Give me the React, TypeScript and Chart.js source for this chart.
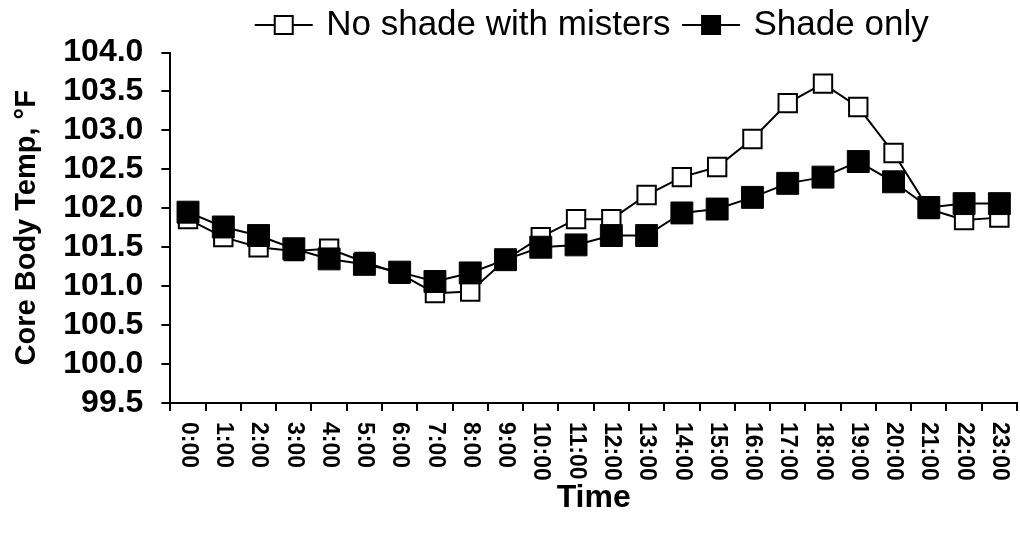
import { useEffect, useRef } from 'react';
import { Chart, registerables } from 'chart.js';

Chart.register(...registerables);

const timeLabels = [
  '0:00', '1:00', '2:00', '3:00', '4:00', '5:00', '6:00', '7:00', '8:00', '9:00', '10:00', '11:00',
  '12:00', '13:00', '14:00', '15:00', '16:00', '17:00', '18:00', '19:00', '20:00', '21:00', '22:00', '23:00',
];

const noShadeWithMisters = [
  101.86, 101.63, 101.5, 101.45, 101.48, 101.31, 101.16, 100.91, 100.93, 101.34, 101.63, 101.86,
  101.86, 102.17, 102.4, 102.53, 102.89, 103.35, 103.6, 103.3, 102.71, 101.99, 101.85, 101.88,
];

const shadeOnly = [
  101.95, 101.76, 101.65, 101.48, 101.35, 101.28, 101.18, 101.06, 101.17, 101.34, 101.5, 101.53,
  101.65, 101.65, 101.94, 101.99, 102.14, 102.32, 102.4, 102.6, 102.34, 102.01, 102.06, 102.06,
];

const seriesNames = ['No shade with misters', 'Shade only'];

const yMin = 99.5;
const yMax = 104.0;
const yStep = 0.5;

const xTitle = 'Time';
const yTitle = 'Core Body Temp, °F';

const FONT = 'Arial, "Liberation Sans", sans-serif';
const X_TICK_LEN = 8;
const X_TICK_PAD = 11;
const X_FONT_SIZE = 23;
const X_AXIS_HEIGHT = 130;

function makeLegendIcon(filled: boolean): HTMLCanvasElement {
  const c = document.createElement('canvas');
  const w = 60;
  const h = 26;
  c.width = w;
  c.height = h;
  const ctx = c.getContext('2d')!;
  ctx.strokeStyle = '#000';
  ctx.lineWidth = 2;
  ctx.beginPath();
  ctx.moveTo(1, h / 2);
  ctx.lineTo(w - 1, h / 2);
  ctx.stroke();
  if (filled) {
    const s = 20;
    ctx.fillStyle = '#000';
    ctx.fillRect(w / 2 - s / 2, h / 2 - s / 2, s, s);
  } else {
    const s = 18;
    ctx.fillStyle = '#fff';
    ctx.fillRect(w / 2 - s / 2, h / 2 - s / 2, s, s);
    ctx.strokeRect(w / 2 - s / 2, h / 2 - s / 2, s, s);
  }
  return c;
}

const rotatedXLabels = {
  id: 'rotatedXLabels',
  afterDraw(chart: any) {
    const scale = chart.scales.x;
    const ctx = chart.ctx;
    ctx.save();
    ctx.font = `bold ${X_FONT_SIZE}px ${FONT}`;
    ctx.fillStyle = '#000';
    ctx.textAlign = 'left';
    ctx.textBaseline = 'middle';
    const y0 = scale.top + X_TICK_LEN + X_TICK_PAD;
    const labels = chart.data.labels as string[];
    labels.forEach((lab, i) => {
      const x = scale.getPixelForTick(i);
      ctx.save();
      ctx.translate(x, y0);
      ctx.rotate(Math.PI / 2);
      ctx.fillText(String(lab), 0, 0);
      ctx.restore();
    });
    ctx.restore();
  },
};

export default function App() {
  const ref = useRef<HTMLCanvasElement | null>(null);

  useEffect(() => {
    if (!ref.current) return;
    const icons = [makeLegendIcon(false), makeLegendIcon(true)];
    const chart = new Chart(ref.current, {
      type: 'line',
      data: {
        labels: timeLabels,
        datasets: [
          {
            label: seriesNames[0],
            data: noShadeWithMisters,
            borderColor: '#000',
            borderWidth: 2,
            pointStyle: 'rect',
            pointRadius: 13,
            pointBackgroundColor: '#fff',
            pointBorderColor: '#000',
            pointBorderWidth: 2,
            tension: 0,
            order: 1,
          },
          {
            label: seriesNames[1],
            data: shadeOnly,
            borderColor: '#000',
            borderWidth: 2,
            pointStyle: 'rect',
            pointRadius: 15.5,
            pointBackgroundColor: '#000',
            pointBorderColor: '#000',
            pointBorderWidth: 1,
            tension: 0,
            order: 0,
          },
        ],
      },
      options: {
        animation: false,
        responsive: true,
        maintainAspectRatio: false,
        layout: { autoPadding: false, padding: { left: 5, right: 3, top: -8, bottom: 0 } },
        plugins: {
          tooltip: { enabled: false },
          legend: {
            display: true,
            position: 'top',
            fullSize: false,
            labels: {
              usePointStyle: true,
              pointStyleWidth: 50,
              color: '#000',
              padding: 15.5,
              font: { family: FONT, size: 35 },
              generateLabels: () =>
                seriesNames.map((name, i) => ({
                  text: name,
                  pointStyle: icons[i] as any,
                  fillStyle: '#000',
                  strokeStyle: '#000',
                  lineWidth: 0,
                  hidden: false,
                  datasetIndex: i,
                  fontColor: '#000',
                })),
            },
          },
        },
        scales: {
          x: {
            type: 'category',
            offset: true,
            border: { display: true, color: '#000', width: 2 },
            grid: {
              display: true,
              drawOnChartArea: false,
              drawTicks: true,
              tickLength: X_TICK_LEN,
              color: '#000',
              lineWidth: 2,
              offset: true,
            },
            ticks: {
              display: false,
              autoSkip: false,
            },
            title: {
              display: true,
              text: xTitle,
              color: '#000',
              font: { family: FONT, size: 32, weight: 'bold' },
              padding: { top: 0, bottom: 16 },
            },
            afterFit: (scale: any) => {
              scale.height = X_AXIS_HEIGHT;
            },
          },
          y: {
            min: yMin,
            max: yMax,
            border: { display: true, color: '#000', width: 2 },
            grid: {
              display: true,
              drawOnChartArea: false,
              drawTicks: true,
              tickLength: 9,
              color: '#000',
              lineWidth: 2,
            },
            ticks: {
              stepSize: yStep,
              autoSkip: false,
              padding: 18,
              color: '#000',
              font: { family: FONT, size: 32, weight: 'bold' },
              callback: (v: any) => Number(v).toFixed(1),
            },
            title: {
              display: true,
              text: yTitle,
              color: '#000',
              font: { family: FONT, size: 29, weight: 'bold' },
              padding: { top: 4.5, bottom: 1 },
            },
          },
        },
      },
      plugins: [rotatedXLabels],
    });
    return () => chart.destroy();
  }, []);

  return (
    <div style={{ position: 'absolute', left: 0, top: 0, width: 1020, height: 533, background: '#fff' }}>
      <canvas ref={ref} />
    </div>
  );
}
